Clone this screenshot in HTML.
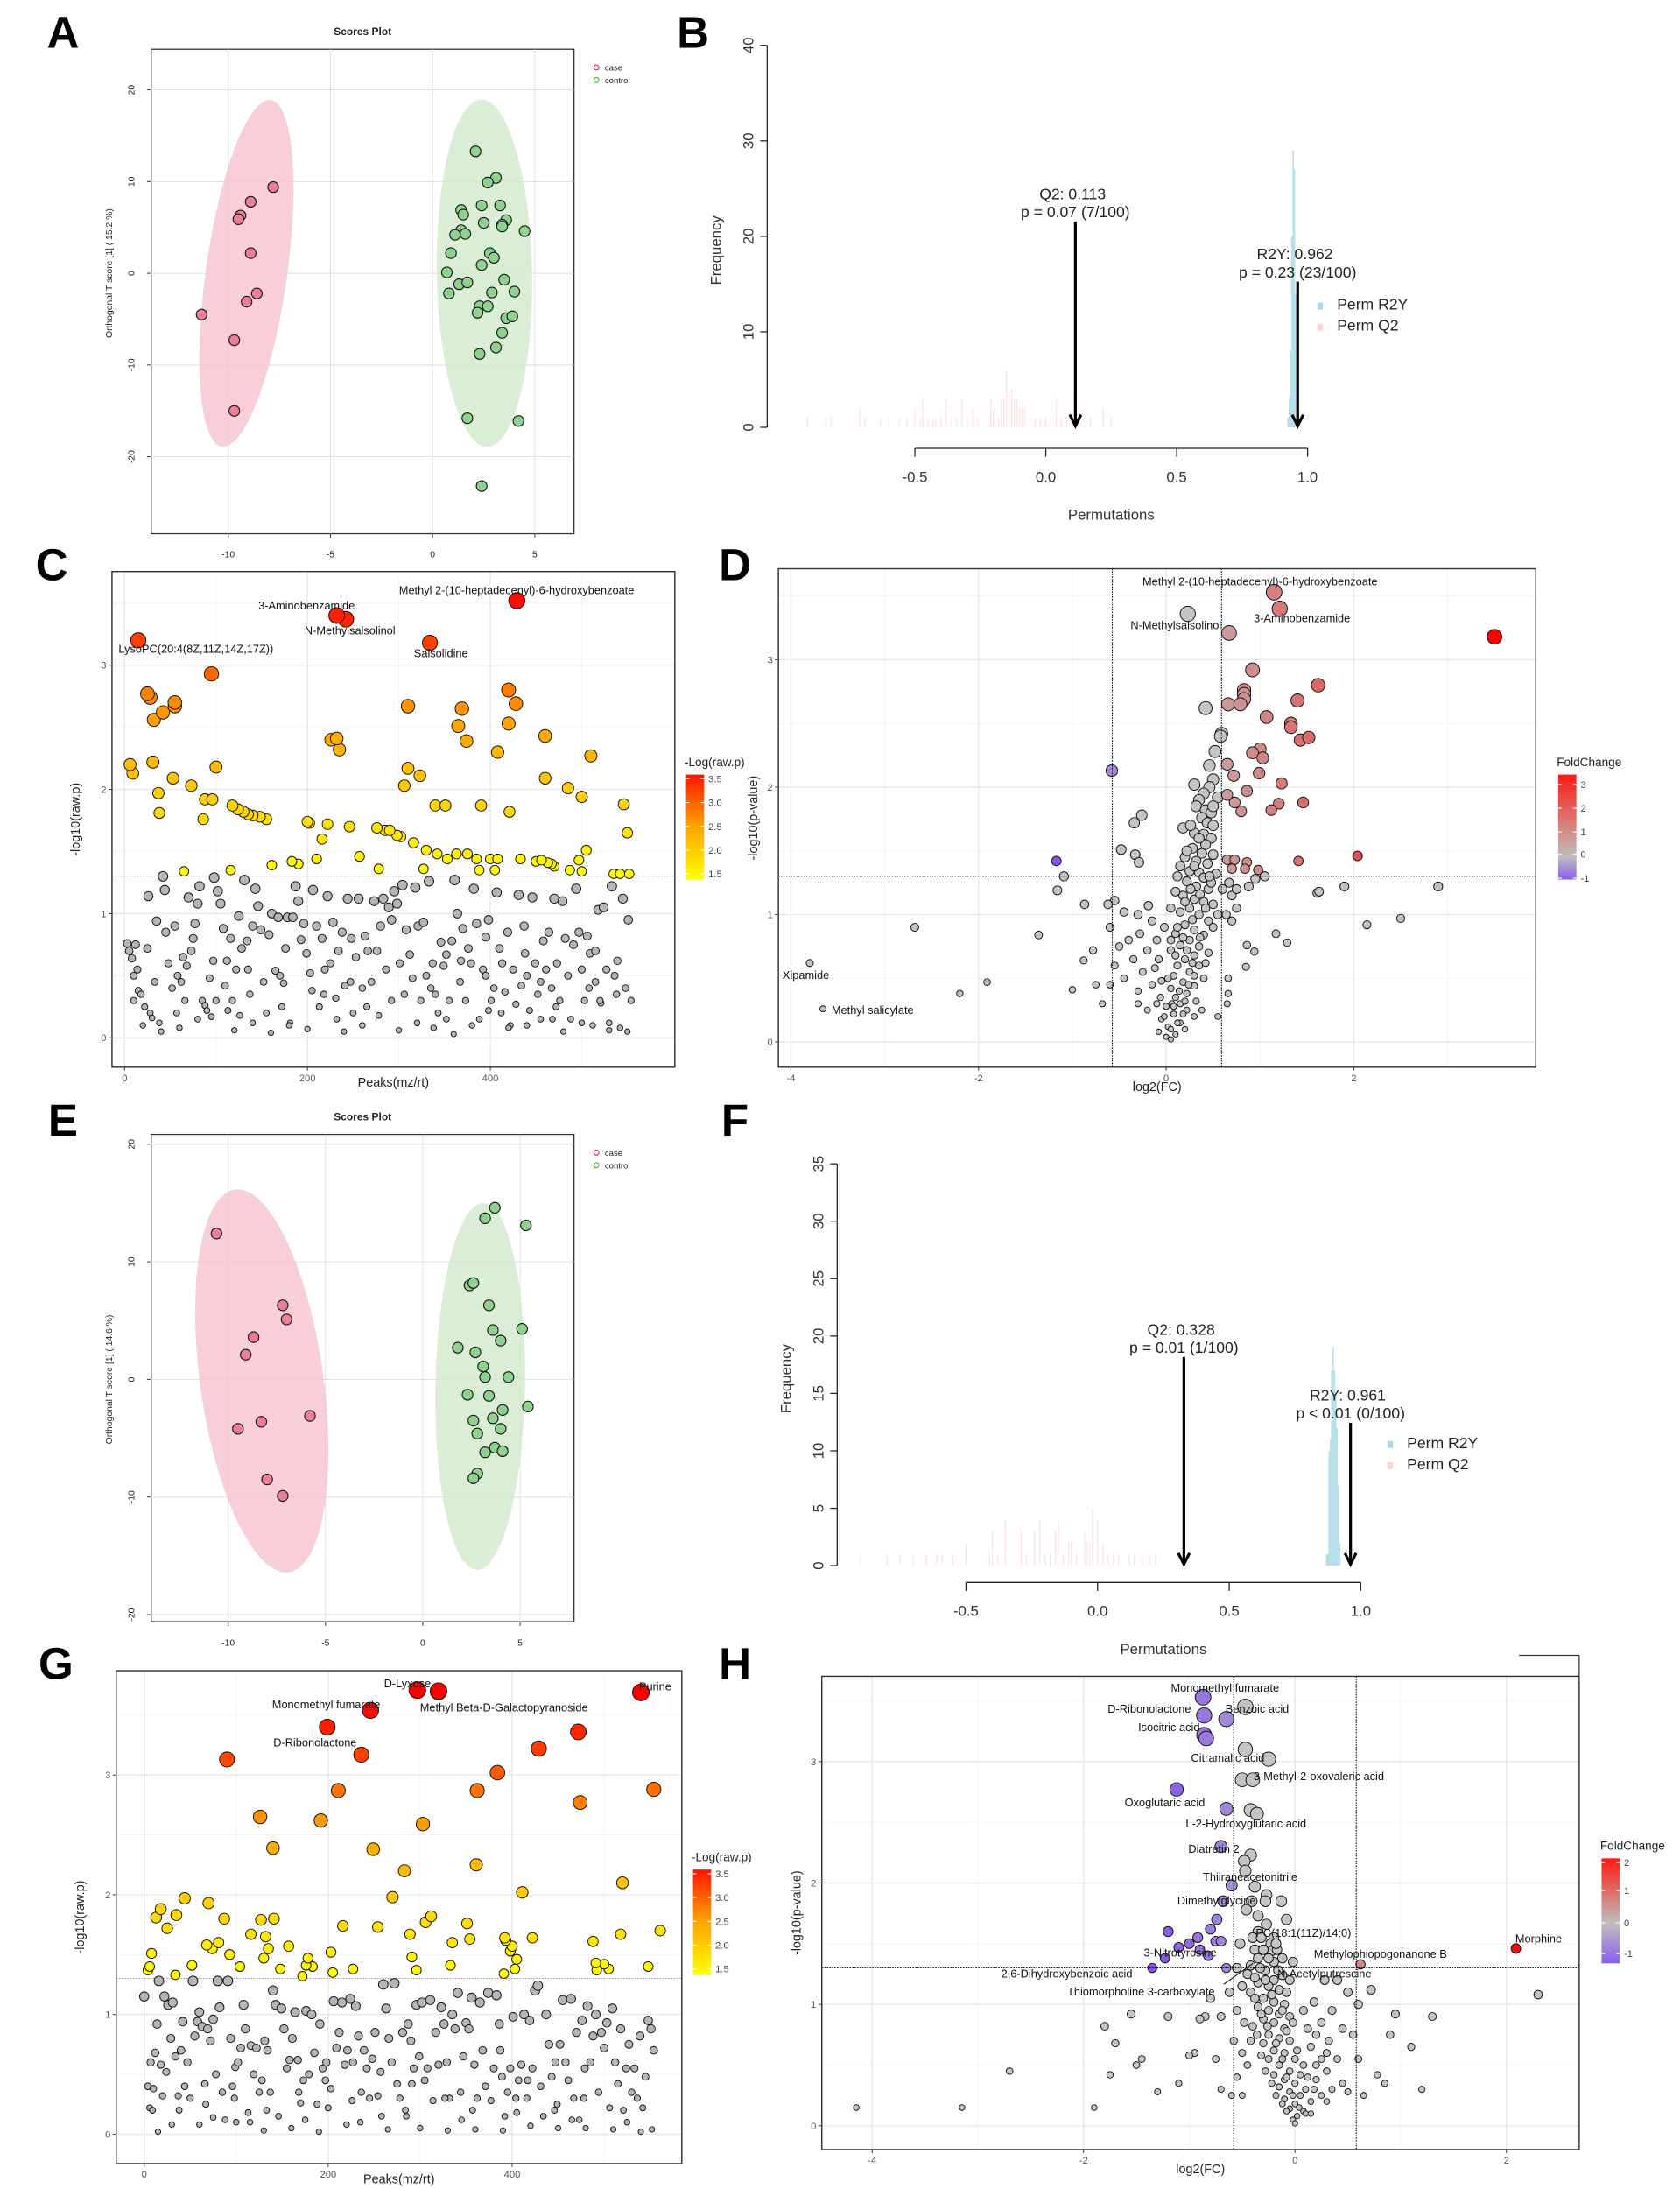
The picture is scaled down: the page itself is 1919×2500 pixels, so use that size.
<!DOCTYPE html>
<html><head><meta charset="utf-8"><style>
html,body{margin:0;padding:0;background:#fff;}
svg{display:block;font-family:"Liberation Sans",sans-serif;}
</style></head><body>
<svg id="fig" width="1919" height="2500" viewBox="0 0 1200 1563" xmlns="http://www.w3.org/2000/svg"></svg>
<script>
// ---------- DATA ----------
const aCaseX=[-7.8,-8.9,-9.4,-9.5,-8.9,-8.6,-9.1,-11.3,-9.7,-9.7];
const aCaseY=[9.4,7.8,6.3,5.9,2.2,-2.2,-3.1,-4.5,-7.3,-15];
const aCtrlX=[2.1,3.1,2.7,2.4,3.3,1.4,1.5,3.6,2.5,3.4,3.4,4.5,1.4,1.6,1.1,2.8,3.0,0.9,2.4,0.7,3.5,1.3,1.7,0.8,2.9,4.0,2.3,2.7,2.2,3.6,3.9,3.4,3.1,2.3,1.7,4.2,2.4];
const aCtrlY=[13.3,10.4,9.9,7.4,7.4,6.9,6.4,5.8,5.5,5.3,5.1,4.6,4.7,4.3,4.2,2.2,1.7,2.2,0.9,0.1,-0.7,-1.2,-1.0,-2.2,-2.1,-2.0,-3.6,-3.6,-4.3,-4.9,-4.7,-6.5,-8.1,-8.8,-15.8,-16.1,-23.2];
const eCaseX=[-10.6,-7.2,-7.0,-8.7,-9.1,-5.8,-8.3,-9.5,-8.0,-7.2];
const eCaseY=[12.4,6.3,5.1,3.6,2.1,-3.1,-3.6,-4.2,-8.5,-9.9];
const eCtrlX=[3.7,3.2,5.3,2.4,2.6,3.4,3.6,5.1,4.0,1.8,2.7,3.1,3.2,4.4,2.3,3.4,5.4,4.1,3.6,2.6,4.0,2.8,3.7,4.1,3.2,2.8,2.6];
const eCtrlY=[14.6,13.7,13.1,8.0,8.2,6.3,4.2,4.3,3.3,2.7,2.3,1.1,0.2,0.2,-1.3,-1.4,-2.3,-2.6,-3.3,-3.5,-4.2,-4.6,-5.8,-6.1,-6.2,-8.0,-8.4];

const bR2yBins=[0.925,0.93,0.935,0.94,0.945,0.95,0.955,0.96,0.965];
const bR2yCounts=[1,3,8,20,29,27,14,4,2];
const bQ2Bins=[-0.91,-0.84,-0.82,-0.71,-0.69,-0.63,-0.6,-0.56,-0.53,-0.5,-0.48,-0.47,-0.45,-0.43,-0.42,-0.4,-0.38,-0.36,-0.34,-0.32,-0.3,-0.28,-0.26,-0.22,-0.21,-0.2,-0.18,-0.17,-0.16,-0.15,-0.14,-0.13,-0.12,-0.11,-0.1,-0.09,-0.08,-0.06,-0.04,-0.02,0.0,0.02,0.04,0.06,0.08,0.1,0.12,0.17,0.22,0.25];
const bQ2Counts=[1,1,1,2,1,1,1,1,1,2,1,3,1,1,1,1,3,1,1,3,1,2,1,1,3,2,1,3,3,6,4,4,3,3,2,2,2,1,1,1,1,1,3,1,1,3,1,1,2,1];
const fR2yBins=[0.87,0.875,0.88,0.885,0.89,0.895,0.9,0.905,0.91,0.915,0.92];
const fR2yCounts=[1,1,10,11,17,19,17,15,12,7,2];
const fQ2Bins=[-0.9,-0.8,-0.75,-0.7,-0.65,-0.61,-0.59,-0.55,-0.5,-0.41,-0.4,-0.38,-0.35,-0.31,-0.29,-0.27,-0.24,-0.22,-0.2,-0.18,-0.16,-0.15,-0.13,-0.11,-0.1,-0.08,-0.05,-0.04,-0.03,-0.02,0.0,0.02,0.04,0.06,0.08,0.12,0.14,0.17,0.2,0.22];
const fQ2Counts=[1,1,1,1,1,1,1,1,2,1,3,1,4,3,3,1,3,4,1,1,3,4,1,2,2,1,3,2,2,5,4,2,1,1,1,1,1,1,1,1];

const cSigIdx=[15,232,242,429,334,95,420,25,28,55,55,42,32,310,369,428,365,420,374,460,232,226,235,408,510,6,31,9,100,310,323,53,73,306,460,485,500,37,88,96,118,124,130,135,140,148,155,86,38,340,351,390,421,546,200,202,222,246,276,285,290,298,302,216,316,550,330,342,363,375,505,353,385,400,408,433,450,456,463,467,470,497,257,210,183,190,161,116,65,278,327,388,405,487,500,535,542,552];
const cSigVal=[3.2,3.4,3.37,3.52,3.18,2.93,2.8,2.77,2.74,2.67,2.7,2.62,2.56,2.67,2.65,2.69,2.51,2.53,2.39,2.43,2.41,2.4,2.32,2.3,2.27,2.2,2.22,2.13,2.18,2.17,2.11,2.09,2.03,2.03,2.09,2.01,1.94,1.97,1.92,1.92,1.87,1.84,1.82,1.8,1.79,1.78,1.76,1.76,1.81,1.87,1.87,1.87,1.82,1.88,1.74,1.73,1.72,1.7,1.69,1.67,1.67,1.63,1.62,1.6,1.57,1.65,1.51,1.48,1.48,1.48,1.51,1.44,1.44,1.44,1.44,1.44,1.42,1.43,1.41,1.4,1.38,1.43,1.46,1.44,1.42,1.4,1.39,1.35,1.34,1.36,1.36,1.35,1.35,1.35,1.34,1.32,1.32,1.32];
const cGray=[[3,0.76],[5,0.7],[8,0.64],[10,0.5],[12,0.75],[15,0.38],[18,0.35],[22,0.25],[25,0.72],[26,1.14],[28,0.2],[30,0.16],[35,0.94],[38,0.12],[42,1.3],[44,1.19],[48,0.6],[52,0.4],[55,0.9],[58,0.5],[62,0.45],[66,0.3],[68,0.58],[70,1.13],[73,0.7],[75,0.8],[77,0.92],[80,1.08],[82,1.22],[85,0.3],[88,0.26],[90,0.22],[93,0.48],[95,0.17],[98,1.29],[100,0.3],[102,1.18],[105,1.08],[108,0.88],[110,0.42],[113,0.22],[116,0.8],[118,0.3],[122,0.55],[125,0.98],[128,0.72],[131,1.27],[134,0.78],[137,0.35],[140,0.9],[143,1.2],[146,1.06],[149,0.87],[152,0.45],[155,0.2],[158,0.83],[161,1.0],[165,0.54],[168,0.97],[170,0.5],[174,0.44],[178,0.97],[181,0.12],[184,0.97],[187,1.22],[190,1.1],[193,0.79],[196,0.92],[199,0.68],[203,0.52],[206,1.19],[210,0.9],[213,0.25],[216,0.8],[219,0.55],[222,1.14],[225,0.6],[228,0.93],[231,0.32],[234,0.7],[238,0.85],[241,0.42],[244,1.12],[247,0.45],[250,0.2],[253,0.65],[256,1.12],[260,0.4],[263,0.82],[266,0.7],[270,0.45],[273,1.1],[276,0.7],[280,0.9],[283,1.12],[286,0.55],[289,1.05],[292,0.95],[295,1.18],[298,1.08],[301,0.6],[304,1.23],[308,0.87],[312,0.67],[315,0.48],[318,1.21],[321,0.9],[324,0.3],[327,0.93],[330,0.5],[333,1.26],[337,0.6],[340,0.35],[343,0.2],[346,0.77],[349,0.58],[352,0.67],[355,0.3],[358,0.78],[361,1.27],[364,1.0],[367,0.45],[370,0.88],[373,0.3],[376,0.72],[379,0.6],[382,1.2],[385,0.92],[388,0.15],[392,0.55],[395,0.81],[398,0.95],[401,0.3],[404,0.4],[407,1.17],[410,0.72],[413,0.6],[416,0.37],[419,0.85],[422,0.1],[425,0.55],[428,0.27],[431,1.15],[434,0.42],[437,0.9],[440,0.5],[443,0.22],[446,1.13],[449,0.6],[452,0.35],[455,0.15],[458,0.78],[461,0.55],[464,0.85],[467,0.4],[470,1.12],[473,0.6],[476,0.3],[479,1.1],[482,0.8],[485,0.5],[488,0.15],[491,0.75],[494,1.2],[497,0.85],[500,0.55],[503,0.3],[506,0.82],[509,0.68],[512,0.1],[515,0.45],[518,1.03],[521,0.28],[524,1.05],[527,0.55],[530,0.12],[533,1.22],[536,0.5],[539,0.62],[542,0.08],[545,1.12],[548,0.4],[551,0.95],[554,0.3],[40,0.05],[60,0.08],[120,0.06],[160,0.04],[200,0.07],[240,0.05],[300,0.06],[360,0.03],[420,0.08],[480,0.05],[530,0.06],[20,0.1],[80,0.15],[140,0.12],[180,0.1],[260,0.1],[320,0.12],[380,0.1],[440,0.1],[500,0.12],[10,0.3],[33,0.45],[57,0.2],[112,0.62],[172,0.25],[232,0.15],[292,0.3],[352,0.15],[412,0.2],[472,0.25],[520,0.3],[550,0.05],[45,0.85],[135,0.55],[205,0.38],[265,0.25],[335,0.4],[395,0.5],[455,0.45],[515,0.7],[14,0.55],[64,0.65],[97,0.62],[126,0.18],[176,0.72],[218,0.35],[248,0.8],[278,0.18],[306,0.35],[338,0.08],[368,0.62],[398,0.22],[438,0.68],[468,0.15],[508,0.4],[538,0.35]];

const gSigIdx=[297,320,540,246,199,90,236,472,429,384,211,362,554,474,126,192,303,140,249,283,361,520,411,270,44,18,70,35,13,25,87,127,141,116,132,157,135,68,74,81,8,93,130,178,176,183,172,148,104,52,34,6,4,216,203,205,227,254,289,291,296,306,312,351,354,335,333,392,393,400,398,405,403,391,422,488,491,500,505,492,518,548,561];
const gSigVal=[3.71,3.7,3.69,3.54,3.4,3.13,3.17,3.36,3.22,3.02,2.87,2.87,2.88,2.77,2.65,2.62,2.59,2.39,2.38,2.2,2.25,2.1,2.02,1.98,1.97,1.88,1.93,1.83,1.81,1.72,1.8,1.79,1.8,1.67,1.65,1.57,1.55,1.58,1.55,1.6,1.51,1.5,1.47,1.47,1.41,1.4,1.32,1.38,1.4,1.41,1.33,1.4,1.37,1.74,1.52,1.35,1.38,1.73,1.67,1.48,1.37,1.77,1.82,1.76,1.63,1.6,1.41,1.64,1.62,1.57,1.53,1.46,1.38,1.34,1.64,1.61,1.43,1.42,1.38,1.37,1.67,1.4,1.7];
const gGray=[[0,1.15],[4,0.4],[6,0.22],[9,0.2],[10,0.38],[12,0.68],[14,0.92],[16,1.28],[18,0.58],[20,0.32],[22,1.15],[24,0.52],[26,1.08],[29,0.8],[31,1.1],[34,0.65],[37,0.32],[40,0.7],[42,0.94],[44,0.4],[47,0.6],[50,0.3],[53,1.28],[55,0.82],[58,0.94],[60,1.02],[63,0.9],[66,0.42],[69,0.88],[72,0.78],[75,0.96],[78,0.5],[80,1.28],[82,1.06],[85,0.35],[88,0.12],[91,1.28],[94,0.8],[96,0.4],[99,0.56],[102,0.6],[105,0.72],[108,1.08],[110,0.88],[113,0.18],[116,0.74],[119,0.5],[122,0.72],[125,0.35],[128,0.45],[131,0.78],[134,0.7],[137,0.35],[140,1.2],[143,1.08],[146,0.15],[149,1.05],[152,0.88],[155,0.55],[158,0.62],[161,0.8],[164,1.02],[167,0.62],[170,0.26],[173,0.45],[176,1.03],[179,0.5],[182,1.0],[185,0.68],[188,0.25],[191,0.92],[194,0.55],[197,0.45],[200,0.22],[203,0.38],[206,1.11],[209,0.72],[212,0.85],[215,1.1],[218,0.58],[221,0.7],[224,1.13],[227,0.6],[230,1.07],[233,0.82],[236,0.35],[239,0.7],[242,0.55],[245,0.3],[248,0.63],[251,0.85],[254,0.32],[257,0.52],[260,1.25],[263,1.05],[266,0.8],[269,0.6],[272,1.26],[275,0.42],[278,0.3],[281,0.85],[284,0.2],[287,0.92],[290,0.78],[293,0.55],[296,1.08],[299,0.65],[302,1.1],[305,0.45],[308,0.55],[311,1.12],[314,0.28],[317,0.85],[320,0.58],[323,1.06],[326,0.92],[329,0.6],[332,0.3],[335,1.0],[338,0.88],[341,1.18],[344,0.35],[347,0.65],[350,0.93],[353,0.88],[356,1.14],[359,0.58],[362,0.3],[365,1.1],[368,0.7],[371,0.4],[374,1.18],[377,0.28],[380,0.55],[383,1.16],[386,0.92],[389,0.48],[392,0.15],[395,0.35],[398,0.55],[401,0.98],[404,0.3],[407,0.45],[410,0.58],[413,1.0],[416,0.3],[419,0.95],[422,0.55],[425,1.2],[428,1.24],[431,0.4],[434,0.15],[437,1.0],[440,0.75],[443,0.48],[446,0.2],[449,0.25],[452,0.75],[455,1.12],[458,0.6],[461,0.45],[464,1.13],[467,0.3],[470,0.85],[473,0.12],[476,0.95],[479,0.55],[482,1.07],[485,0.6],[488,0.82],[491,1.0],[494,0.35],[497,0.85],[500,0.72],[503,0.93],[506,0.22],[509,1.05],[512,0.6],[515,0.42],[518,0.88],[521,0.2],[524,0.55],[527,0.75],[530,0.35],[533,0.55],[536,0.3],[539,0.82],[542,0.22],[545,0.48],[548,0.95],[551,0.88],[554,0.7],[15,0.02],[60,0.08],[100,0.1],[130,0.03],[160,0.05],[190,0.02],[220,0.08],[265,0.04],[300,0.05],[330,0.03],[360,0.04],[390,0.03],[420,0.07],[450,0.05],[480,0.05],[510,0.04],[540,0.02],[552,0.04],[30,0.08],[75,0.14],[115,0.1],[175,0.12],[235,0.1],[285,0.15],[345,0.12],[405,0.18],[465,0.12],[525,0.1],[7,0.6],[38,0.2],[67,0.25],[98,0.3],[133,0.2],[168,0.35],[198,0.6],[226,0.28],[258,0.15],[291,0.42],[327,0.3],[357,0.2],[387,0.7],[417,0.45],[447,0.6],[478,0.3]];

const dSigX=[1.15,1.21,0.67,3.5,0.92,1.62,0.83,0.83,0.83,0.66,0.79,1.4,1.07,1.33,1.33,1.43,1.52,1.0,0.92,1.03,0.65,0.72,0.99,1.23,0.86,0.65,1.46,1.2,1.12,0.73,0.8,-0.58,-1.17,1.41,2.04,0.65,0.73,0.86,0.7,0.84,0.98];
const dSigY=[3.53,3.4,3.21,3.18,2.92,2.8,2.76,2.73,2.69,2.65,2.65,2.68,2.55,2.5,2.47,2.37,2.39,2.3,2.27,2.23,2.18,2.09,2.11,2.03,1.97,1.94,1.88,1.87,1.82,1.88,1.81,2.13,1.42,1.42,1.46,1.43,1.43,1.41,1.36,1.36,1.35];
const dGray=[[0.23,3.36],[0.42,2.62],[0.59,2.42],[0.58,2.4],[0.52,2.28],[0.46,2.17],[0.5,2.06],[0.3,2.02],[0.46,2.0],[0.4,1.95],[0.35,1.9],[0.55,1.92],[0.32,1.85],[0.42,1.82],[0.48,1.8],[0.38,1.76],[0.44,1.72],[0.5,1.7],[0.18,1.68],[0.3,1.64],[0.4,1.63],[0.48,1.6],[0.28,1.52],[0.38,1.48],[0.5,1.47],[0.2,1.45],[0.32,1.42],[0.44,1.4],[0.15,1.38],[0.25,1.34],[0.35,1.33],[0.53,1.32],[0.4,1.29],[0.22,1.26],[0.32,1.22],[0.45,1.2],[0.18,1.15],[0.3,1.12],[0.4,1.1],[0.5,1.08],[0.6,1.2],[0.7,1.15],[0.75,1.05],[0.64,1.0],[0.7,0.95],[0.25,1.05],[0.15,1.02],[0.35,1.0],[0.45,0.95],[0.2,0.92],[0.3,0.88],[0.1,0.85],[0.4,0.84],[0.25,0.8],[0.15,0.76],[0.35,0.75],[0.05,0.72],[0.3,0.68],[0.45,0.7],[0.2,0.65],[0.12,0.6],[0.35,0.6],[0.25,0.55],[0.08,0.52],[0.4,0.5],[0.18,0.47],[0.3,0.44],[0.05,0.42],[0.22,0.38],[0.1,0.35],[0.32,0.32],[0.15,0.3],[0.0,0.28],[0.22,0.25],[0.08,0.22],[0.3,0.2],[-0.05,0.18],[0.15,0.15],[0.02,0.12],[0.2,0.1],[-0.08,0.08],[0.1,0.06],[0.0,0.04],[0.05,0.02],[-0.1,0.3],[-0.15,0.45],[-0.2,0.25],[-0.25,0.55],[-0.3,0.4],[-0.35,0.65],[-0.12,0.58],[-0.05,0.48],[-0.2,0.72],[-0.1,0.8],[-0.28,0.85],[-0.4,0.8],[-0.5,0.75],[-0.55,0.6],[-0.3,0.3],[-0.45,0.5],[-0.6,0.45],[-0.15,0.95],[-0.19,1.07],[-0.55,1.11],[-0.62,1.08],[-0.3,1.0],[-0.45,1.02],[-0.6,0.9],[-0.34,1.72],[-0.26,1.78],[-0.48,1.51],[-0.33,1.47],[-0.29,1.41],[-1.09,1.3],[-1.16,1.19],[-0.87,1.08],[-2.68,0.9],[-1.36,0.84],[-3.8,0.62],[-1.91,0.47],[-2.2,0.38],[-3.66,0.26],[-1.0,0.41],[-0.88,0.64],[-0.78,0.72],[-0.75,0.45],[-0.68,0.3],[2.9,1.22],[1.9,1.22],[1.61,1.17],[1.63,1.18],[2.5,0.97],[2.14,0.92],[1.17,0.85],[1.29,0.78],[0.86,0.76],[0.94,0.71],[0.85,0.59],[0.66,0.5],[0.66,0.38],[0.65,0.3],[0.38,0.25],[0.55,0.2],[1.05,1.3],[0.95,1.28],[0.88,1.22],[0.67,1.25],[0.75,1.2],[0.12,0.15],[0.18,0.22],[0.06,0.3],[0.14,0.4],[0.24,0.45],[0.02,0.5],[0.28,0.62],[0.1,0.68],[0.22,0.72],[0.36,0.82],[0.12,0.9],[0.28,0.96],[0.42,1.05],[0.2,1.1],[0.36,1.16],[0.26,1.2],[0.48,1.25],[0.12,1.3],[0.3,1.38],[0.22,1.5],[0.42,1.55],[0.35,1.6],[0.26,1.7],[0.5,1.85],[0.05,0.1],[-0.02,0.2],[0.08,0.28],[-0.06,0.35],[0.2,0.32],[0.3,0.52],[-0.08,0.65],[0.05,0.8],[0.18,0.82],[-0.02,0.9],[0.05,1.05],[0.1,1.18],[0.42,0.62],[0.5,0.9],[0.55,1.0],[0.46,1.3]];

const hSigX=[-0.87,-0.86,-0.65,-0.86,-0.84,-1.12,-0.65,-0.7,-0.6,-0.68,-0.92,-1.2,-0.8,-1.1,-0.9,-0.75,-0.82,-1.23,-1.0,-0.74,-0.7,-1.35,-0.65,2.09,0.62];
const hSigY=[3.53,3.38,3.35,3.22,3.19,2.77,2.61,2.3,1.98,1.85,1.55,1.6,1.62,1.47,1.45,1.52,1.4,1.38,1.5,1.7,1.52,1.3,1.3,1.46,1.33];
const hGray=[[-0.47,3.45],[-0.47,3.1],[-0.25,3.02],[-0.5,2.85],[-0.4,2.85],[-0.42,2.6],[-0.36,2.57],[-0.42,2.23],[-0.48,2.18],[-0.47,2.1],[-0.38,1.97],[-0.41,1.85],[-0.27,1.9],[-0.13,1.85],[-0.28,1.85],[-0.46,1.78],[-0.35,1.73],[-0.27,1.66],[-0.35,1.6],[-0.2,1.55],[-0.4,1.55],[-0.23,1.5],[-0.32,1.55],[-0.52,1.5],[-0.38,1.45],[-0.22,1.44],[-0.3,1.45],[-0.17,1.45],[-0.12,1.38],[-0.02,1.35],[-0.2,1.35],[-0.35,1.38],[-0.28,1.28],[-0.45,1.25],[-0.12,1.24],[-0.2,1.2],[-0.35,1.18],[-0.25,1.15],[-0.15,1.12],[-0.42,1.1],[-0.3,1.05],[-0.2,1.02],[-0.1,1.0],[-0.35,0.98],[-0.25,0.95],[-0.15,0.92],[-0.05,0.9],[-0.3,0.88],[-0.2,0.85],[-0.1,0.8],[-0.4,0.82],[-0.25,0.75],[-0.15,0.72],[-0.05,0.7],[-0.3,0.68],[-0.2,0.62],[-0.1,0.6],[0.0,0.55],[-0.25,0.55],[-0.15,0.5],[-0.05,0.45],[0.05,0.42],[-0.2,0.42],[-0.1,0.38],[0.0,0.35],[-0.15,0.32],[0.1,0.3],[-0.05,0.28],[0.05,0.25],[-0.1,0.22],[0.15,0.2],[0.0,0.18],[-0.05,0.14],[0.08,0.12],[0.02,0.08],[-0.02,0.05],[0.0,0.02],[0.1,0.1],[0.18,0.3],[0.25,0.25],[0.2,0.5],[0.3,0.45],[0.15,0.65],[0.25,0.55],[0.12,0.8],[0.35,0.3],[0.45,0.35],[0.3,0.6],[0.4,0.55],[-0.55,0.95],[-0.58,0.7],[-0.5,0.6],[-0.55,0.4],[-0.45,0.5],[-0.6,0.25],[-0.62,1.1],[-0.7,0.9],[-0.8,1.05],[-0.85,0.9],[-0.9,0.88],[-0.95,0.6],[-1.0,0.58],[-0.75,0.55],[-0.7,0.3],[-1.2,0.9],[-1.3,0.28],[-1.55,0.92],[-1.5,0.5],[-1.7,0.68],[-1.8,0.82],[-1.75,0.42],[-1.9,0.15],[-2.7,0.45],[-3.15,0.15],[-4.15,0.15],[-1.45,0.55],[-1.1,0.35],[-0.5,0.25],[0.28,1.2],[0.5,1.1],[0.6,1.0],[0.72,1.12],[0.95,0.92],[1.1,0.65],[1.2,0.3],[1.3,0.9],[0.9,0.75],[0.6,0.55],[0.78,0.42],[0.85,0.35],[0.55,0.75],[0.25,0.85],[0.35,0.95],[0.45,0.8],[0.5,0.28],[0.65,0.25],[2.3,1.08],[-0.08,1.7],[-0.33,1.3],[-0.42,1.32],[-0.05,1.2],[-0.08,0.12],[-0.12,0.18],[0.04,0.15],[-0.18,0.25],[-0.22,0.35],[-0.08,0.4],[-0.28,0.45],[-0.12,0.55],[-0.32,0.58],[0.02,0.62],[-0.18,0.68],[-0.36,0.75],[-0.08,0.78],[-0.26,0.82],[-0.02,0.85],[-0.12,0.95],[-0.32,0.92],[-0.22,1.08],[-0.38,1.05],[-0.08,1.1],[-0.28,1.2],[-0.16,1.28],[-0.38,1.22],[-0.25,1.38],[-0.18,1.5],[0.08,0.5],[0.12,0.4],[0.2,0.38],[0.15,0.1],[-0.02,0.25],[0.3,0.2],[0.2,0.75],[0.32,0.7],[0.08,0.95],[0.18,1.02],[0.4,1.2],[-0.5,1.15],[-0.55,1.3],[-0.48,0.85],[-0.42,0.7]];

// ---------- HELPERS ----------
const NS="http://www.w3.org/2000/svg";
const svg=document.getElementById('fig');
function el(tag,attrs,parent){const e=document.createElementNS(NS,tag);for(const k in attrs)e.setAttribute(k,attrs[k]);(parent||svg).appendChild(e);return e;}
function txt(s,x,y,size,opts,parent){opts=opts||{};const t=el('text',{x:x,y:y,'font-size':size,fill:opts.fill||'#222','text-anchor':opts.anchor||'middle','font-weight':opts.bold?'bold':'normal'},parent);if(opts.rot!==undefined)t.setAttribute('transform','rotate('+opts.rot+' '+x+' '+y+')');t.textContent=s;return t;}
function lerp(a,b,t){return a+(b-a)*t;}
function mix(c1,c2,t){return 'rgb('+Math.round(lerp(c1[0],c2[0],t))+','+Math.round(lerp(c1[1],c2[1],t))+','+Math.round(lerp(c1[2],c2[2],t))+')';}
function heatColor(v){let t=Math.max(0,Math.min(1,(v-1.3)/(3.6-1.3)));if(t<0.55)return mix([255,255,0],[255,160,0],t/0.55);return mix([255,160,0],[255,0,0],(t-0.55)/0.45);}
function fcColor(v,max,min){if(v>=0)return mix([190,190,190],[255,0,0],Math.min(1,v/max));return mix([190,190,190],[130,80,240],Math.min(1,v/min));}

// ---------- PANEL LABELS ----------
[['A',45,34],['B',495,34],['C',37,414],['D',525,414],['E',45,811],['F',525,811],['G',40,1199],['H',525,1199]].forEach(p=>{
  const t=txt(p[0],p[1],p[2],32,{bold:true,fill:'#000'});
  
  
});

// ---------- SCORES PLOT ----------
function scores(g,box,xs,ys,xticks,yticks,ylab,cx,cy,cellipse,gellipse,caseX,caseY,ctrlX,ctrlY){
  el('rect',{x:box[0],y:box[1],width:box[2]-box[0],height:box[3]-box[1],fill:'#fff',stroke:'#333','stroke-width':0.8},g);
  xticks.forEach(v=>{const X=xs(v);el('line',{x1:X,y1:box[1],x2:X,y2:box[3],stroke:'#ddd','stroke-width':0.6},g);el('line',{x1:X,y1:box[3],x2:X,y2:box[3]+3,stroke:'#333','stroke-width':0.6},g);txt(String(v),X,box[3]+17,6.5,{},g);});
  yticks.forEach(v=>{const Y=ys(v);el('line',{x1:box[0],y1:Y,x2:box[2],y2:Y,stroke:'#ddd','stroke-width':0.6},g);el('line',{x1:box[0]-3,y1:Y,x2:box[0],y2:Y,stroke:'#333','stroke-width':0.6},g);txt(String(v),box[0]-12,Y,6.5,{rot:-90},g);});
  const t=txt(ylab,cx,cy,6.5,{rot:-90},g);
  
  
  const e1=el('ellipse',{cx:cellipse[0],cy:cellipse[1],rx:cellipse[2],ry:cellipse[3],transform:'rotate('+cellipse[4]+' '+cellipse[0]+' '+cellipse[1]+')',fill:'#f6c3cf',opacity:0.8},g);
  
  
  const e2=el('ellipse',{cx:gellipse[0],cy:gellipse[1],rx:gellipse[2],ry:gellipse[3],transform:'rotate('+gellipse[4]+' '+gellipse[0]+' '+gellipse[1]+')',fill:'#cfeacb',opacity:0.8},g);
  
  
  caseX.forEach((x,i)=>{const c=el('circle',{cx:xs(x),cy:ys(caseY[i]),r:3.8,fill:'#ea7f95',stroke:'#111','stroke-width':0.7},g);
    
    });
  ctrlX.forEach((x,i)=>{const c=el('circle',{cx:xs(x),cy:ys(ctrlY[i]),r:3.8,fill:'#8fd18f',stroke:'#111','stroke-width':0.7},g);
    
    });
  const ly=box[1]+13;
  el('circle',{cx:426,cy:ly,r:1.8,fill:'none',stroke:'#e5004c','stroke-width':0.6},g);
  txt('case',432,ly+2.2,6,{anchor:'start'},g);
  el('circle',{cx:426,cy:ly+9,r:1.8,fill:'none',stroke:'#22b022','stroke-width':0.6},g);
  txt('control',432,ly+11.2,6,{anchor:'start'},g);
  const tt=txt('Scores Plot',(box[0]+box[2])/2,box[1]-10,7.5,{bold:true},g);
  
  
}
let gA=el('g',{});


scores(gA,[108,35,410,381],v=>309+14.6*v,v=>195-6.55*v,[-10,-5,0,5],[20,10,0,-10,-20],'Orthogonal T score [1] ( 15.2 %)',80,195,[176,195,29,125,8],[346,195,34,124,-1],aCaseX,aCaseY,aCtrlX,aCtrlY);
let gE=el('g',{});


scores(gE,[108,810,410,1158],v=>302+13.9*v,v=>985-8.4*v,[-10,-5,0,5],[20,10,0,-10,-20],'Orthogonal T score [1] ( 14.6 %)',80,985,[187,986,44,138,-8],[343,990,32,131,1],eCaseX,eCaseY,eCtrlX,eCtrlY);

// ---------- PERMUTATION HISTOGRAMS ----------
function perm(g,ax,xs,ys,yticks,xticks,xAxisY,r2yB,r2yC,q2B,q2C,q2v,q2txt,r2v,r2txt,q2top,r2top,legY){
  el('line',{x1:ax,y1:ys(0),x2:ax,y2:ys(yticks[yticks.length-1]),stroke:'#222','stroke-width':0.8},g);
  yticks.forEach(v=>{el('line',{x1:ax-5,y1:ys(v),x2:ax,y2:ys(v),stroke:'#222','stroke-width':0.8},g);txt(String(v),ax-10,ys(v),10.5,{rot:-90,fill:'#333'},g);});
  const fq=txt('Frequency',ax-33,(ys(0)+ys(yticks[yticks.length-1]))/2+10,10.5,{rot:-90,fill:'#333'},g);
  
  
  el('line',{x1:xs(xticks[0]),y1:xAxisY,x2:xs(xticks[xticks.length-1]),y2:xAxisY,stroke:'#222','stroke-width':0.8},g);
  xticks.forEach(v=>{el('line',{x1:xs(v),y1:xAxisY,x2:xs(v),y2:xAxisY+6,stroke:'#222','stroke-width':0.8},g);txt(v.toFixed(1),xs(v),xAxisY+24,10.5,{fill:'#333'},g);});
  const px=txt('Permutations',(xs(xticks[0])+xs(xticks[xticks.length-1]))/2,xAxisY+51,10.5,{fill:'#333'},g);
  
  
  q2B.forEach((b,i)=>{const r=el('rect',{x:xs(b)-0.4,y:ys(q2C[i]),width:0.8,height:ys(0)-ys(q2C[i]),fill:'#fde4e4'},g);
    
    });
  r2yB.forEach((b,i)=>{const r=el('rect',{x:xs(b)-0.5,y:ys(r2yC[i]),width:1,height:ys(0)-ys(r2yC[i]),fill:'#b7e0ea'},g);
    
    });
  [[q2v,q2top,q2txt],[r2v,r2top,r2txt]].forEach((a,k)=>{
    const X=xs(a[0]);
    const ar=el('line',{x1:X,y1:a[1],x2:X,y2:ys(0)-1,stroke:'#000','stroke-width':2},g);
    
    
    el('polyline',{points:(X-4)+','+(ys(0)-9)+' '+X+','+(ys(0)-1)+' '+(X+4)+','+(ys(0)-9),fill:'none',stroke:'#000','stroke-width':2},g);
    txt(a[2][0],X-2,a[1]-16,11,{fill:'#222'},g);
    txt(a[2][1],X,a[1]-3,11,{fill:'#222'},g);
  });
  el('rect',{x:ax+393,y:legY-4,width:4,height:5,fill:'#a9dbe6'},g);
  txt('Perm R2Y',ax+407,legY+1,11,{anchor:'start',fill:'#222'},g);
  el('rect',{x:ax+393,y:legY+11,width:4,height:5,fill:'#fbd4d4'},g);
  txt('Perm Q2',ax+407,legY+16,11,{anchor:'start',fill:'#222'},g);
}
let gB=el('g',{});


perm(gB,548,v=>747+187*v,v=>305-6.82*v,[0,10,20,30,40],[-0.5,0,0.5,1.0],320,bR2yBins,bR2yCounts,bQ2Bins,bQ2Counts,0.113,['Q2: 0.113','p = 0.07 (7/100)'],0.962,['R2Y: 0.962','p = 0.23 (23/100)'],158,201,220);
let gF=el('g',{});


perm(gF,598,v=>784+188*v,v=>1118-8.2*v,[0,5,10,15,20,25,30,35],[-0.5,0,0.5,1.0],1130,fR2yBins,fR2yCounts,fQ2Bins,fQ2Counts,0.328,['Q2: 0.328','p = 0.01 (1/100)'],0.961,['R2Y: 0.961','p < 0.01 (0/100)'],969,1016,1033);

// ---------- GGPLOT FRAME ----------
function ggFrame(g,box,xs,ys,xticks,xminor,yticks,yminor,xlab,ylab,ylabX,xlabY){
  el('rect',{x:box[0],y:box[1],width:box[2]-box[0],height:box[3]-box[1],fill:'#fff'},g);
  xminor.forEach(v=>el('line',{x1:xs(v),y1:box[1],x2:xs(v),y2:box[3],stroke:'#f2f2f2','stroke-width':0.5},g));
  yminor.forEach(v=>el('line',{x1:box[0],y1:ys(v),x2:box[2],y2:ys(v),stroke:'#f2f2f2','stroke-width':0.5},g));
  xticks.forEach(v=>{el('line',{x1:xs(v),y1:box[1],x2:xs(v),y2:box[3],stroke:'#e8e8e8','stroke-width':0.9},g);el('line',{x1:xs(v),y1:box[3],x2:xs(v),y2:box[3]+2.5,stroke:'#333','stroke-width':0.6},g);txt(String(v),xs(v),box[3]+10,7,{fill:'#555'},g);});
  yticks.forEach(v=>{el('line',{x1:box[0],y1:ys(v),x2:box[2],y2:ys(v),stroke:'#e8e8e8','stroke-width':0.9},g);el('line',{x1:box[0]-2.5,y1:ys(v),x2:box[0],y2:ys(v),stroke:'#333','stroke-width':0.6},g);txt(String(v),box[0]-4,ys(v)+2.5,7,{anchor:'end',fill:'#555'},g);});
  const xl=txt(xlab,(box[0]+box[2])/2,xlabY,9,{fill:'#222'},g);
  
  
  const yl=txt(ylab,ylabX,(box[1]+box[3])/2,9,{rot:-90,fill:'#222'},g);
  
  
}
function frameBorder(g,box){el('rect',{x:box[0],y:box[1],width:box[2]-box[0],height:box[3]-box[1],fill:'none',stroke:'#333','stroke-width':0.9},g);}
function colorbar(g,x,y,title,stops,labels){
  const id='cb'+Math.round(x)+Math.round(y);
  const lg=el('linearGradient',{id:id,x1:0,y1:1,x2:0,y2:0},el('defs',{},g));
  stops.forEach(s=>el('stop',{offset:s[0],'stop-color':s[1]},lg));
  const r=el('rect',{x:x,y:y,width:13,height:75,fill:'url(#'+id+')'},g);
  
  
  txt(title,x-1,y-6,8.5,{anchor:'start',fill:'#222'},g);
  labels.forEach(l=>{el('line',{x1:x,y1:l[1],x2:x+2.5,y2:l[1],stroke:'#fff','stroke-width':0.7},g);el('line',{x1:x+10.5,y1:l[1],x2:x+13,y2:l[1],stroke:'#fff','stroke-width':0.7},g);txt(l[0],x+16,l[1]+2.5,7,{anchor:'start',fill:'#444'},g);});
}

// ---------- MANHATTAN (C, G) ----------
function manhattan(g,box,xs,ys,yticks,grayPts,sigIdx,sigVal,labels,cbY){
  ggFrame(g,box,xs,ys,[0,200,400],[100,300,500],yticks,yticks.map(v=>v+0.5),'Peaks(mz/rt)','-log10(raw.p)',box[0]-23,box[3]+14);
  el('line',{x1:box[0],y1:ys(1.301),x2:box[2],y2:ys(1.301),stroke:'#aaa','stroke-width':0.6,'stroke-dasharray':'1.2,0.8'},g);
  grayPts.forEach(p=>{const c=el('circle',{cx:xs(p[0]),cy:ys(p[1]),r:1.9+1.2*p[1],fill:'#b5b5b5',stroke:'#111','stroke-width':0.6},g);
    
    });
  const ord=sigIdx.map((v,i)=>i).sort((a,b)=>sigVal[a]-sigVal[b]);
  ord.forEach(i=>{const c=el('circle',{cx:xs(sigIdx[i]),cy:ys(sigVal[i]),r:1.9+1.1*sigVal[i],fill:heatColor(sigVal[i]),stroke:'#111','stroke-width':0.6},g);
    
    });
  labels.forEach(l=>{const t=txt(l[0],l[1],l[2],8,{fill:'#111'},g);
    
    });
  frameBorder(g,box);
  colorbar(g,box[2]+8,cbY,'-Log(raw.p)',[[0,'#ffff00'],[0.5,'#ffa500'],[1,'#ff1500']],[['3.5',cbY+3],['3.0',cbY+20],['2.5',cbY+37],['2.0',cbY+54],['1.5',cbY+71]]);
}
let gC=el('g',{});


manhattan(gC,[80,408,482,762],v=>89+0.653*v,v=>741-88.7*v,[0,1,2,3],cGray,cSigIdx,cSigVal,
 [['Methyl 2-(10-heptadecenyl)-6-hydroxybenzoate',369,424],['3-Aminobenzamide',219,435],['N-Methylsalsolinol',250,453],['LysoPC(20:4(8Z,11Z,14Z,17Z))',140,466],['Salsolidine',315,469]],553);
let gG=el('g',{});


manhattan(gG,[83,1193,487,1545],v=>103+0.657*v,v=>1524-85.5*v,[0,1,2,3],gGray,gSigIdx,gSigVal,
 [['D-Lyxose',291,1205],['Monomethyl fumarate',233,1220],['Methyl Beta-D-Galactopyranoside',360,1222],['Purine',468,1207],['D-Ribonolactone',225,1247]],1335);

// ---------- VOLCANO (D, H) ----------
function volcano(g,box,xs,ys,xticks,xminor,yticks,grayPts,sigX,sigY,fcMax,fcMin,vl,labels,cbY,cbLabels){
  ggFrame(g,box,xs,ys,xticks,xminor,yticks,yticks.map(v=>v+0.5),'log2(FC)','-log10(p-value)',box[0]-15,box[3]+17);
  grayPts.forEach(p=>{const c=el('circle',{cx:xs(p[0]),cy:ys(p[1]),r:1.9+1.05*p[1],fill:'#c4c4c4',stroke:'#111','stroke-width':0.6},g);
    
    });
  sigX.forEach((x,i)=>{const c=el('circle',{cx:xs(x),cy:ys(sigY[i]),r:1.9+1.05*sigY[i],fill:fcColor(x,fcMax,fcMin),stroke:'#111','stroke-width':0.6},g);
    
    });
  vl.forEach(v=>el('line',{x1:xs(v),y1:box[1],x2:xs(v),y2:box[3],stroke:'#111','stroke-width':0.7,'stroke-dasharray':'1,0.8'},g));
  el('line',{x1:box[0],y1:ys(1.301),x2:box[2],y2:ys(1.301),stroke:'#111','stroke-width':0.7,'stroke-dasharray':'1,0.8'},g);
  labels.forEach(l=>{const t=txt(l[0],l[1],l[2],8,{fill:'#111',anchor:l[3]||'middle'},g);
    
    });
  frameBorder(g,box);
  colorbar(g,box[2]+16,cbY,'FoldChange',[[0,'#8a5cf0'],[cbLabels.zero,'#bebebe'],[1,'#ff1a10']],cbLabels.list);
}
let gD=el('g',{});


volcano(gD,[556,406,1097,762],v=>833+67*v,v=>744-91*v,[-4,-2,0,2],[-3,-1,1,3],[0,1,2,3],dGray,dSigX,dSigY,3.5,-1.2,[-0.575,0.59],
 [['Methyl 2-(10-heptadecenyl)-6-hydroxybenzoate',900,418],['N-Methylsalsolinol',840,449],['3-Aminobenzamide',930,444],['Xipamide',559,699,'start'],['Methyl salicylate',594,724,'start']],553,
 {zero:0.22,list:[['3',560],['2',577],['1',594],['0',610],['-1',627]]});
let gH=el('g',{});


volcano(gH,[587,1197,1128,1535],v=>925+75.5*v,v=>1518-86.7*v,[-4,-2,0,2],[-3,-1,1],[0,1,2,3],hGray,hSigX,hSigY,2.2,-1.35,[-0.58,0.58],
 [['Monomethyl fumarate',875,1208],['D-Ribonolactone',821,1223],['Benzoic acid',898,1223],['Isocitric acid',835,1236],['Citramalic acid',877,1258],['3-Methyl-2-oxovaleric acid',942,1271],['Oxoglutaric acid',832,1290],['L-2-Hydroxyglutaric acid',890,1305],['Diatretin 2',867,1323],['Thiiraneacetonitrile',893,1343],['Dimethylglycine',869,1360],['PC(18:1(11Z)/14:0)',931,1383],['Morphine',1099,1387],['3-Nitrotyrosine',843,1397],['Methylophiopogonanone B',986,1398],['2,6-Dihydroxybenzoic acid',762,1412],['N-Acetylputrescine',946,1412],['Thiomorpholine 3-carboxylate',815,1425]],1327,
 {zero:0.38,list:[['2',1330],['1',1350],['0',1373],['-1',1395]]});
el('line',{x1:874,y1:1417,x2:895,y2:1402,stroke:'#111','stroke-width':0.7},gH);
el('line',{x1:1085,y1:1182,x2:1128,y2:1182,stroke:'#333','stroke-width':0.8},gH);
el('line',{x1:1128,y1:1182,x2:1128,y2:1197,stroke:'#333','stroke-width':0.8},gH);
</script>
</body></html>
